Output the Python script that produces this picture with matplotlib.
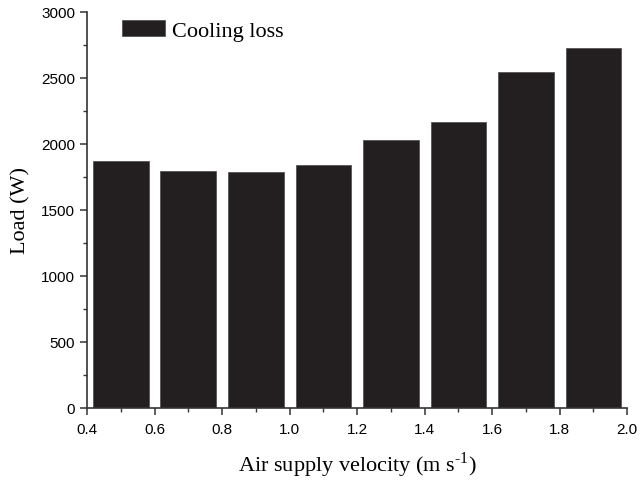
import matplotlib
matplotlib.use("Agg")
import matplotlib.pyplot as plt
from matplotlib.ticker import MultipleLocator, FormatStrFormatter

velocity = [0.5, 0.7, 0.9, 1.1, 1.3, 1.5, 1.7, 1.9]
cooling_loss = [1866, 1795, 1782, 1835, 2028, 2162, 2542, 2727]
series_label = "Cooling loss"
x_label = "Air supply velocity (m s$^{\\mathregular{\u20101}}$)"
y_label = "Load (W)"

fig = plt.figure(figsize=(6.4, 4.81), dpi=100)
ax = fig.add_axes([0.136, 0.15, 0.844, 0.824])

ax.bar(velocity, cooling_loss, width=0.165, color="#231f20",
       edgecolor="#555555", linewidth=0.6, label=series_label)

ax.set_xlim(0.4, 2.0)
ax.set_ylim(0, 3000)
ax.xaxis.set_major_locator(MultipleLocator(0.2))
ax.xaxis.set_minor_locator(MultipleLocator(0.1))
ax.yaxis.set_major_locator(MultipleLocator(500))
ax.yaxis.set_minor_locator(MultipleLocator(250))
ax.xaxis.set_major_formatter(FormatStrFormatter("%.1f"))

for s in ["top", "right"]:
    ax.spines[s].set_visible(False)
for s in ["left", "bottom"]:
    ax.spines[s].set_linewidth(1.2)
    ax.spines[s].set_color("#333333")

ax.tick_params(which="major", direction="out", length=5, width=1.1,
               color="#333333", labelsize=11)
ax.tick_params(axis="x", which="major", pad=5)
ax.tick_params(which="minor", direction="out", length=3, width=1.0,
               color="#333333")
for lab in ax.get_xticklabels() + ax.get_yticklabels():
    lab.set_family("Liberation Sans")

ax.set_xlabel(x_label, family=["Liberation Serif", "DejaVu Serif"], fontsize=16, labelpad=10)
ax.set_ylabel(y_label, family="Liberation Serif", fontsize=16, labelpad=8)

leg = ax.legend(loc="upper left", bbox_to_anchor=(0.035, 1.018), frameon=False,
                prop={"family": "Liberation Serif", "size": 16},
                handlelength=1.95, handleheight=0.75, handletextpad=0.3,
                borderaxespad=0.3)

fig.savefig("out.png", dpi=100)
